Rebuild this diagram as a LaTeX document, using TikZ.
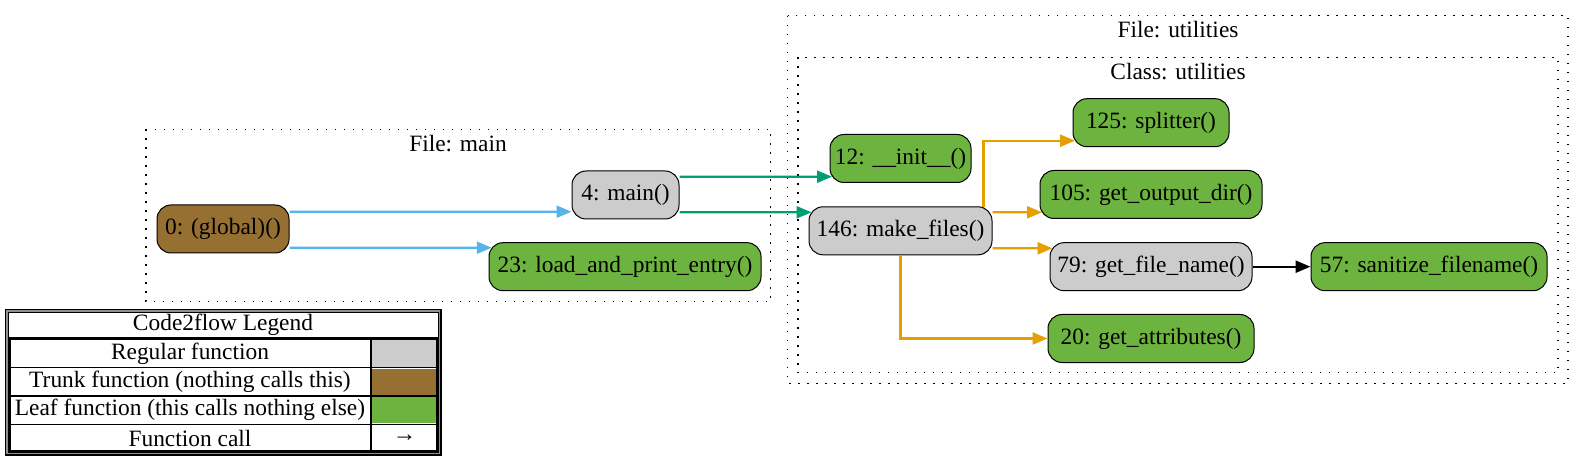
\documentclass[tikz,border=0pt]{standalone}
\usepackage{fontspec}
\setmainfont{Liberation Serif}
\usetikzlibrary{arrows.meta}
\definecolor{regular}{HTML}{CCCCCC}
\definecolor{trunk}{HTML}{966F33}
\definecolor{leaf}{HTML}{6DB33F}
\definecolor{eblue}{HTML}{56B4E9}
\definecolor{egreen}{HTML}{009E73}
\definecolor{eorange}{HTML}{E69F00}
\definecolor{framegray}{HTML}{909090}
\begin{document}
\begin{tikzpicture}[x=1bp,y=-1bp,
  font=\fontsize{23.4bp}{28bp}\selectfont,
  fn/.style={draw=black, line width=1bp, rounded corners=14bp, minimum height=48bp,
             inner xsep=4bp, inner ysep=0pt},
  reg/.style={fn, fill=regular},
  trk/.style={fn, fill=trunk},
  lf/.style={fn, fill=leaf},
  call/.style={line width=2.3bp, -{Triangle[length=15bp,width=12bp]}},
  cluster/.style={draw=black, line width=1.4bp, dash pattern=on 1.4bp off 7.6bp},
  lbl/.style={inner sep=0pt}]
\useasboundingbox (0,0) rectangle (1584,461);

% clusters
\draw[cluster] (146,129.3) rectangle (770.6,301.7);
\node[lbl] (lmain) at (458,144) {File: main};
\draw[cluster] (787.7,15.7) rectangle (1568,383.3);
\node[lbl] (lfile) at (1178,30) {File: utilities};
\draw[cluster] (798,57.3) rectangle (1558,372.7);
\node[lbl] (lclass) at (1178,71.7) {Class: utilities};

% nodes
\node[trk, minimum width=132bp] (global) at (223,229) {0: (global)()};
\node[reg, minimum width=107bp] (main) at (625.5,195) {4: main()};
\node[lf, minimum width=272bp] (load) at (625,266.7) {23: load\_and\_print\_entry()};
\node[lf, minimum width=141bp] (init) at (900.5,158.5) {12: \_\_init\_\_()};
\node[reg, minimum width=183bp] (mf) at (900.5,230.8) {146: make\_files()};
\node[lf, minimum width=156bp] (split) at (1151,122.7) {125: splitter()};
\node[lf, minimum width=222bp] (outdir) at (1151,194.5) {105: get\_output\_dir()};
\node[reg, minimum width=202bp] (gfn) at (1151,266.7) {79: get\_file\_name()};
\node[lf, minimum width=236bp] (san) at (1429,266.7) {57: sanitize\_filename()};
\node[lf, minimum width=206bp] (ga) at (1151,338.5) {20: get\_attributes()};

% edges
\draw[call, eblue] ([yshift=17.3bp]global.east) -- ([yshift=-16.7bp]main.west);
\draw[call, eblue] ([yshift=-18.7bp]global.east) -- ([xshift=3.3bp,yshift=19bp]load.west);
\draw[call, egreen] ([yshift=18.3bp]main.east) -- ([xshift=2.5bp,yshift=-18.2bp]init.west);
\draw[call, egreen] ([yshift=-17.3bp]main.east) -- ([xshift=3bp,yshift=18.5bp]mf.west);
\draw[call, eorange] ([xshift=83.1bp,yshift=-1bp]mf.north) |- ([xshift=2.5bp,yshift=-18bp]split.west);
\draw[call, eorange] ([yshift=18.5bp]mf.east) -- ([xshift=2.5bp,yshift=-17.8bp]outdir.west);
\draw[call, eorange] ([yshift=-17.5bp]mf.east) -- ([xshift=3bp,yshift=18.4bp]gfn.west);
\draw[call, eorange] (mf.south) |- (ga.west);
\draw[call, black] (gfn.east) -- (san.west);

% legend
\fill[regular] (372,340.5) rectangle (436.5,367);
\fill[trunk] (372,368.7) rectangle (436.5,395.2);
\fill[leaf] (372,397) rectangle (436.5,423.3);
\draw[line width=1.3bp] (9,367.7) -- (437,367.7);
\draw[line width=1.3bp] (9,396) -- (437,396);
\draw[line width=1.3bp] (9,424.2) -- (437,424.2);
\draw[line width=1.3bp] (371,338) -- (371,451);
\draw[line width=3bp] (9.5,338.3) rectangle (437.5,451.5);
\draw[line width=4bp, black] (7,311) rectangle (439.5,453.5);
\draw[line width=1.6bp, framegray] (7,311) rectangle (439.5,453.5);
\node[lbl] (ltitle) at (223,324.5) {Code2flow Legend};
\node[lbl] (lreg) at (190,354) {Regular function};
\node[lbl] (ltrunk) at (190,382) {Trunk function (nothing calls this)};
\node[lbl] (lleaf) at (190,410) {Leaf function (this calls nothing else)};
\node[lbl] (lcall) at (190,438.3) {Function call};
\node[lbl] (larrow) at (404.5,438.3) {\textbf{→}};
\end{tikzpicture}
\end{document}
